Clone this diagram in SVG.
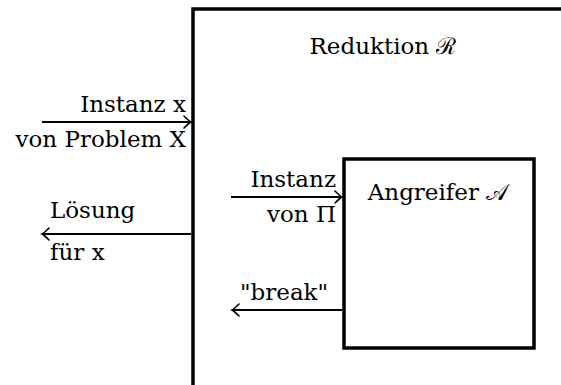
<svg xmlns="http://www.w3.org/2000/svg" width="561" height="385" viewBox="0 0 561 385">
<style>
text{font-family:"DejaVu Serif","Liberation Serif",serif;font-size:23px;fill:#000}
.box{fill:none;stroke:#000;stroke-width:3.5}
.con{fill:none;stroke:#000;stroke-width:2}
.end{text-anchor:end}
.mid{text-anchor:middle}
</style>
<defs>
<marker id="arr" viewBox="-8 -7 10 14" markerWidth="10" markerHeight="14" refX="0" refY="0" orient="auto" markerUnits="userSpaceOnUse">
<path d="M-7,-6 Q-2,-1 0,0 Q-2,1 -7,6" fill="none" stroke="#000" stroke-width="1.6" stroke-linecap="round"/>
</marker>
</defs>
<g id="reduktion">
<rect class="box" x="193" y="9" width="400" height="400"/>
<text class="mid" x="383" y="54">Reduktion ℛ</text>
</g>
<g id="angreifer">
<rect class="box" x="344" y="159" width="190" height="189"/>
<text class="mid" x="438" y="200">Angreifer 𝒜</text>
</g>
<g id="connectors">
<line class="con" x1="42" y1="122" x2="191" y2="122" marker-end="url(#arr)"/>
<line class="con" x1="191" y1="234" x2="42" y2="234" marker-end="url(#arr)"/>
<line class="con" x1="231" y1="197" x2="342" y2="197" marker-end="url(#arr)"/>
<line class="con" x1="342" y1="310" x2="232" y2="310" marker-end="url(#arr)"/>
</g>
<g id="labels">
<text class="end" x="186" y="112">Instanz x</text>
<text class="end" x="186" y="147">von Problem X</text>
<text x="50" y="218">Lösung</text>
<text x="50" y="260">für x</text>
<text class="end" x="336" y="187">Instanz</text>
<text class="end" x="336" y="222">von Π</text>
<text x="240" y="300">"break"</text>
</g>
</svg>
